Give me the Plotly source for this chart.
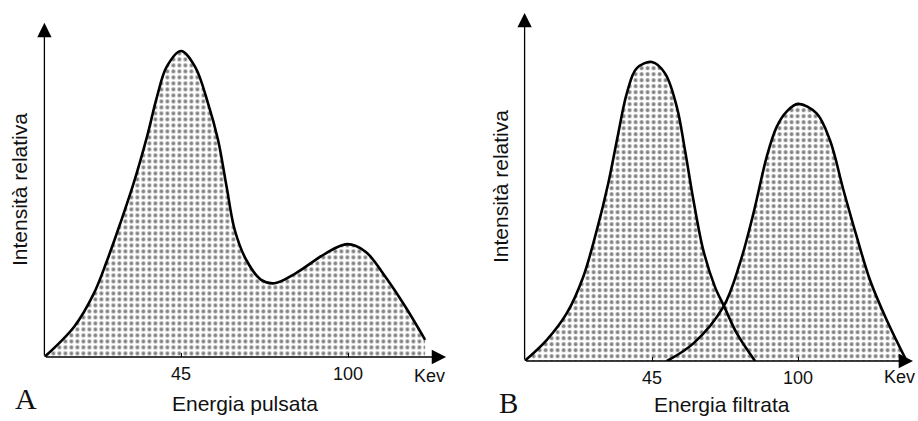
import plotly.graph_objects as go

# ---- Data (energy in keV, relative intensity 0-100) ----
# Panel A: pulsed spectrum
a_energy = [0, 9.8, 16.3, 20.7, 25.0, 29.4, 33.8, 37.1, 40.3, 45.0, 49.6, 53.9, 57.2,
            60.0, 62.7, 66.5, 71.4, 75.8, 83.0, 92.7, 99.8, 105.8, 112.3, 118.9, 125.4]
a_intensity = [0, 9.9, 20.8, 31.7, 43.7, 56.8, 72.0, 85.1, 94.9, 100, 94.9, 82.9, 70.9,
               55.7, 41.5, 31.7, 25.2, 24.1, 27.5, 33.9, 36.9, 34.4, 26.2, 16.4, 5.6]

# Panel B: filtered spectrum, two peaks
b1_energy = [-3, 5.3, 12.9, 19.1, 24.2, 28.5, 32.3, 35.5, 39.2, 45.0, 49.9, 54.3, 57.4,
             60.6, 64.3, 68.7, 72.2, 76.9, 83.8]
b1_intensity = [0, 7.0, 16.0, 28.2, 43.8, 59.4, 76.2, 89.5, 97.9, 100, 96.2, 85.1, 70.6,
                53.8, 37.1, 24.8, 18.2, 9.3, 0]
b2_energy = [50.6, 60.6, 71.9, 78.1, 83.2, 88.2, 92.0, 95.7, 100.0, 107.0, 112.0, 117.1,
             122.1, 127.1, 133.4, 140.9]
b2_intensity = [0, 5.9, 18.2, 32.7, 49.4, 68.3, 78.4, 83.4, 86.0, 82.8, 73.9, 57.2,
                41.6, 27.1, 13.7, 0]

tick_vals = [45, 100]
tick_text = ["45", "100"]
unit_label = "Kev"
y_title = "Intensità relativa"
x_title_a = "Energia pulsata"
x_title_b = "Energia filtrata"

SANS = "Liberation Sans, Arial, Helvetica, sans-serif"
SERIF = "Liberation Serif, Times New Roman, serif"
INK = "#111111"

fig = go.Figure()

pattern = dict(shape=".", size=6, solidity=0.33, fgcolor="#000000", bgcolor="#ffffff")


def add_curve(xs, ys, xa, ya):
    fig.add_trace(go.Scatter(x=xs, y=ys, xaxis=xa, yaxis=ya, mode="lines",
                             line=dict(width=0, shape="spline", smoothing=1.0),
                             fill="tozeroy", fillcolor="#ffffff",
                             fillpattern=pattern, hoverinfo="skip", showlegend=False))


def add_outline(xs, ys, xa, ya):
    fig.add_trace(go.Scatter(x=xs, y=ys, xaxis=xa, yaxis=ya, mode="lines",
                             line=dict(width=2.6, color="#000000", shape="spline", smoothing=1.0),
                             hoverinfo="skip", showlegend=False))


add_curve(a_energy, a_intensity, "x", "y")
add_curve(b1_energy, b1_intensity, "x2", "y2")
add_curve(b2_energy, b2_intensity, "x2", "y2")
add_outline(a_energy, a_intensity, "x", "y")
add_outline(b1_energy, b1_intensity, "x2", "y2")
add_outline(b2_energy, b2_intensity, "x2", "y2")

W, H = 918, 421

xa_common = dict(showgrid=False, zeroline=False, showline=False,
                 tickvals=tick_vals, ticktext=tick_text, ticks="inside", ticklen=4,
                 tickcolor="#000000", tickwidth=1,
                 tickfont=dict(family=SANS, size=18, color=INK), ticklabelstandoff=4)
ya_common = dict(showgrid=False, zeroline=False, showline=False, showticklabels=False,
                 ticks="")

fig.update_layout(
    width=W, height=H,
    margin=dict(l=0, r=0, t=0, b=0),
    paper_bgcolor="white", plot_bgcolor="rgba(0,0,0,0)",
    xaxis=dict(domain=[44.4 / W, 448.2 / W], range=[0, 133], anchor="y", **xa_common),
    yaxis=dict(domain=[64 / H, (H - 20.4) / H], range=[0, 110], anchor="x", **ya_common),
    xaxis2=dict(domain=[524.6 / W, 917.5 / W], range=[-3, 145], anchor="y2", **xa_common),
    yaxis2=dict(domain=[60 / H, (H - 11.2) / H], range=[0, 117], anchor="x2", **ya_common),
)

ann = []


def arrow(xref, yref, x, y, ax, ay):
    ann.append(dict(xref=xref, yref=yref, axref=xref, ayref=yref, x=x, y=y, ax=ax, ay=ay,
                    text="", showarrow=True, arrowhead=2, arrowsize=2.2, arrowwidth=1.3,
                    arrowcolor="#000000", standoff=0, startstandoff=0))


# axes with arrowheads
arrow("x", "y", 132.3, 0, 0, 0)
arrow("x", "y", 0, 109.2, 0, 0)
arrow("x2", "y2", 143.3, 0, -3, 0)
arrow("x2", "y2", -3, 116.4, -3, 0)


def ptext(txt, px, py, size, family=SANS, angle=0, xanchor="center"):
    ann.append(dict(xref="paper", yref="paper", x=px / W, y=(H - py) / H, text=txt,
                    showarrow=False, xanchor=xanchor, yanchor="middle", textangle=angle,
                    font=dict(family=family, size=size, color=INK)))


ptext(unit_label, 429, 376, 18)
ptext(unit_label, 917, 377, 18, xanchor="right")
ptext(x_title_a, 245, 403, 21)
ptext(x_title_b, 722, 404, 21)
ptext(y_title, 20, 190, 21, angle=-90)
ptext(y_title, 500, 187, 21, angle=-90)
ptext("A", 26, 398, 30, family=SERIF)
ptext("B", 509, 403, 29, family=SERIF)

fig.update_layout(annotations=ann)

fig.write_html("out.html", config={"displayModeBar": False},
               post_script="document.body.style.margin='0';document.body.style.overflow='hidden';")
